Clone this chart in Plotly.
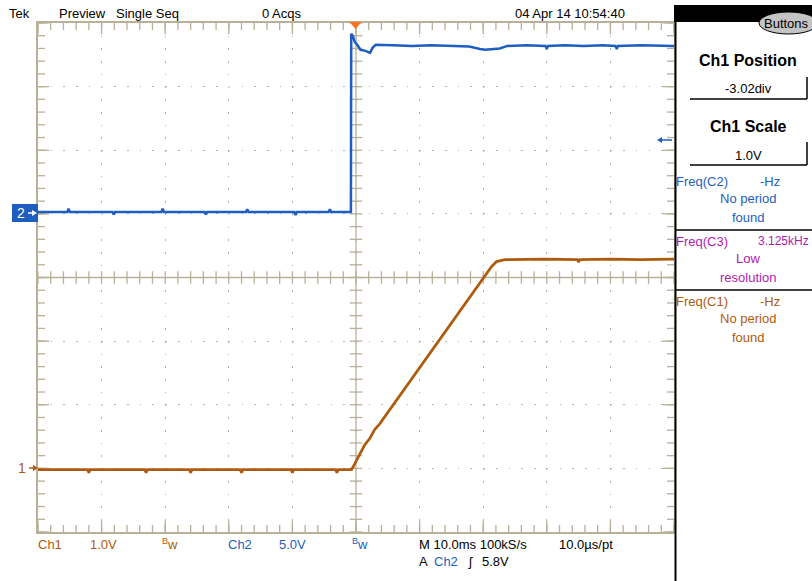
import plotly.graph_objects as go

# Ch2 (blue, 5 V/div) : time in ms relative to trigger, volts
ch2_t = [-49.8, -45.2, -45.0, -44.8, -38.1, -37.9, -37.7, -30.4, -30.2, -30.0,
         -23.6, -23.4, -23.2, -17.1, -16.9, -16.7, -9.5, -9.3, -9.1, -4.1, -3.9, -3.7,
         -0.6, -0.55, -0.3, 0.0, 0.5, 0.9, 1.7, 2.4, 2.8, 3.3, 6.0, 9.0, 12.0, 15.0,
         18.0, 19.7, 20.5, 22.8, 24.0, 27.0, 30.0, 30.2, 30.4, 33.0, 36.0, 39.0, 41.0,
         41.2, 41.4, 45.0, 48.0, 50.2]
ch2_v = [0.0, 0.0, 0.25, 0.0, 0.0, -0.2, 0.0, 0.0, 0.25, 0.0,
         0.0, -0.2, 0.0, 0.0, 0.2, 0.0, 0.0, -0.25, 0.0, 0.0, 0.2, 0.0,
         0.0, 14.0, 13.84, 13.37, 13.06, 12.74, 12.66, 12.51, 12.9, 13.14, 13.1, 13.05, 13.1, 13.05,
         13.0, 12.8, 12.75, 12.85, 13.05, 13.1, 13.05, 12.8, 13.05, 13.1, 13.05, 13.1, 13.05,
         12.8, 13.05, 13.1, 13.05, 13.05]

# Ch1 (brown, 1 V/div)
ch1_t = [-49.8, -42.0, -41.8, -41.6, -33.0, -32.8, -32.6, -26.0, -25.8, -25.6,
         -18.0, -17.8, -17.6, -10.0, -9.8, -9.6, -3.0, -2.8, -2.6, -0.5,
         0.0, 0.79, 1.57, 2.36, 3.14, 3.93, 10.2, 14.9, 18.1, 21.5, 22.3, 23.6,
         30.0, 35.0, 35.2, 35.4, 40.0, 45.0, 50.2]
ch1_v = [0.0, 0.0, -0.05, 0.0, 0.0, -0.05, 0.0, 0.0, -0.05, 0.0,
         0.0, -0.05, 0.0, 0.0, -0.05, 0.0, 0.0, -0.05, 0.0, 0.0,
         0.09, 0.25, 0.39, 0.49, 0.63, 0.72, 1.60, 2.26, 2.70, 3.19, 3.27, 3.30,
         3.31, 3.30, 3.26, 3.30, 3.31, 3.30, 3.31]

# scope settings
time_range = [-49.8, 50.2]        # 10 ms/div, trigger position
ch1_range = [-0.98, 7.02]         # 1.0 V/div, position -3.02 div
ch2_range = [-25.15, 14.85]       # 5.0 V/div
trig_level = 5.8

# ---------------- styling ----------------
W, H = 812, 581
L, R, T, B = 38, 674, 23, 532
TAN = "#b8b098"
BLUE = "#1e5ec0"
BROWN = "#b05a0c"
MAG = "#b01cb0"
FONT = "Liberation Sans, Arial, sans-serif"
FS = 13


def px(X):
    return (X - L) / (R - L)


def py(Y):
    return (B - Y) / (B - T)


fig = go.Figure()

# graticule tick marks (centre cross and border, clipped to the plot area)
minor_x = [i * 0.2 for i in range(51)]
minor_y = [i * 0.2 for i in range(41)]
major_x = list(range(11))
major_y = list(range(9))


def tickmarks(xs, ys, sym, size):
    fig.add_trace(go.Scatter(x=xs, y=ys, mode="markers", xaxis="x", yaxis="y", cliponaxis=True,
                             marker=dict(symbol=sym, size=size, line=dict(color=TAN, width=1.3)),
                             hoverinfo="skip", showlegend=False))


tickmarks(minor_x, [4] * len(minor_x), "line-ns", 9)
tickmarks([5] * len(minor_y), minor_y, "line-ew", 9)
tickmarks(minor_x * 2, [0] * len(minor_x) + [8] * len(minor_x), "line-ns", 10)
tickmarks([0] * len(minor_y) + [10] * len(minor_y), minor_y * 2, "line-ew", 10)
tickmarks(major_x * 2, [0] * len(major_x) + [8] * len(major_x), "line-ns", 16)
tickmarks([0] * len(major_y) + [10] * len(major_y), major_y * 2, "line-ew", 16)

# traces
fig.add_trace(go.Scatter(x=ch1_t, y=ch1_v, mode="lines", xaxis="x2", yaxis="y3",
                         line=dict(color=BROWN, width=2.7), showlegend=False))
fig.add_trace(go.Scatter(x=ch2_t, y=ch2_v, mode="lines", xaxis="x2", yaxis="y4",
                         line=dict(color=BLUE, width=2.5), showlegend=False))

dot = "1.6px,11.12px"
axcommon = dict(showticklabels=False, zeroline=False, showline=True, linecolor=TAN, linewidth=2,
                mirror=True, ticks="",
                showgrid=True, gridcolor="#b0b0b0", gridwidth=1.3, griddash=dot, fixedrange=True)

fig.update_layout(
    width=W, height=H, autosize=False,
    margin=dict(l=L, r=W - R, t=T, b=H - B, pad=0),
    paper_bgcolor="white", plot_bgcolor="white",
    font=dict(family=FONT, size=FS, color="black"),
    xaxis=dict(range=[0, 10], dtick=1, tick0=0, **axcommon),
    yaxis=dict(range=[0, 8], dtick=1, tick0=0, **axcommon),
    xaxis2=dict(range=time_range, overlaying="x", visible=False, fixedrange=True),
    yaxis3=dict(range=ch1_range, overlaying="y", visible=False, fixedrange=True),
    yaxis4=dict(range=ch2_range, overlaying="y", visible=False, fixedrange=True),
)

shapes = []
# centre cross
shapes.append(dict(type="line", xref="x", yref="y", x0=5, x1=5, y0=0, y1=8, line=dict(color=TAN, width=1.3), layer="below"))
shapes.append(dict(type="line", xref="x", yref="y", x0=0, x1=10, y0=4, y1=4, line=dict(color=TAN, width=1.3), layer="below"))
# right panel
shapes.append(dict(type="rect", xref="paper", yref="paper", x0=px(674), x1=px(812), y0=py(22), y1=py(5),
                   fillcolor="black", line=dict(width=0)))
shapes.append(dict(type="line", xref="paper", yref="paper", x0=px(675.5), x1=px(675.5), y0=py(22), y1=py(581),
                   line=dict(color="black", width=2)))
shapes.append(dict(type="circle", xref="paper", yref="paper", x0=px(759), x1=px(818), y0=py(34), y1=py(12),
                   fillcolor="#c4c4c4", line=dict(color="black", width=1)))
for yb, yt in [(99, 77), (165, 142)]:
    shapes.append(dict(type="line", xref="paper", yref="paper", x0=px(690), x1=px(807), y0=py(yb), y1=py(yb),
                       line=dict(color="black", width=1.5)))
    shapes.append(dict(type="line", xref="paper", yref="paper", x0=px(807), x1=px(807), y0=py(yb), y1=py(yt),
                       line=dict(color="black", width=1.5)))
for ys in [230, 290]:
    shapes.append(dict(type="line", xref="paper", yref="paper", x0=px(676), x1=px(812), y0=py(ys), y1=py(ys),
                       line=dict(color="black", width=1.5)))
# Ch2 marker box
shapes.append(dict(type="rect", xref="paper", yref="paper", x0=px(12), x1=px(38), y0=py(222), y1=py(204),
                   fillcolor=BLUE, line=dict(width=0)))
# trigger position triangle
shapes.append(dict(type="path", xref="paper", yref="paper",
                   path=f"M {px(349.5)},{py(22)} L {px(361.5)},{py(22)} L {px(355.5)},{py(29)} Z",
                   fillcolor="#ff7020", line=dict(width=0)))


def arrow(X0, X1, Y, color):
    # horizontal arrow from X0 to X1 (pixels): shaft + head
    d = 1 if X1 > X0 else -1
    shapes.append(dict(type="line", xref="paper", yref="paper", x0=px(X0), x1=px(X1 - d * 3), y0=py(Y), y1=py(Y),
                       line=dict(color=color, width=1.5)))
    shapes.append(dict(type="path", xref="paper", yref="paper",
                       path=f"M {px(X1)},{py(Y)} L {px(X1 - d * 5)},{py(Y - 3)} L {px(X1 - d * 5)},{py(Y + 3)} Z",
                       fillcolor=color, line=dict(width=0)))


arrow(28, 37, 213, "white")
arrow(29, 38, 468, BROWN)
arrow(672, 657, 140, BLUE)
fig.update_layout(shapes=shapes)

anns = []


def ann(X, Y, text, color="black", size=FS, anchor="left", bold=False):
    if bold:
        text = f"<b>{text}</b>"
    anns.append(dict(x=px(X), y=py(Y), xref="paper", yref="paper", text=text, showarrow=False,
                     xanchor=anchor, yanchor="middle", font=dict(family=FONT, size=size, color=color),
                     borderpad=0, borderwidth=0))


# top line
ann(9, 13, "Tek")
ann(59, 13, "Preview")
ann(116, 13, "Single Seq")
ann(262, 13, "0 Acqs")
ann(515, 13, "04 Apr 14 10:54:40")
ann(787, 23, "Buttons", anchor="center")

# right panel
ann(748, 61, "Ch1 Position", size=16, anchor="center", bold=True)
ann(748, 88, "-3.02div", anchor="center")
ann(748, 127, "Ch1 Scale", size=16, anchor="center", bold=True)
ann(748, 155, "1.0V", anchor="center")
ann(676, 182, "Freq(C2)", color=BLUE)
ann(760, 182, "-Hz", color=BLUE)
ann(748, 198, "No period", color=BLUE, anchor="center")
ann(748, 217, "found", color=BLUE, anchor="center")
ann(676, 241, "Freq(C3)", color=MAG)
ann(758, 241, "3.125kHz", color=MAG, size=12)
ann(748, 258, "Low", color=MAG, anchor="center")
ann(748, 277, "resolution", color=MAG, anchor="center")
ann(676, 301, "Freq(C1)", color=BROWN)
ann(760, 301, "-Hz", color=BROWN)
ann(748, 318, "No period", color=BROWN, anchor="center")
ann(748, 337, "found", color=BROWN, anchor="center")

# bottom readouts
ann(38, 544, "Ch1", color=BROWN)
ann(90, 544, "1.0V", color=BROWN)
ann(162, 544, "<sup>B</sup>w", color=BROWN)
ann(228, 544, "Ch2", color=BLUE)
ann(279, 544, "5.0V", color=BLUE)
ann(352, 544, "<sup>B</sup>w", color=BLUE)
ann(419, 544, "M 10.0ms 100kS/s")
ann(559, 544, "10.0µs/pt")
ann(419, 561, "A")
ann(434, 561, "Ch2", color=BLUE)
ann(468, 561, "ʃ")
ann(482, 561, "5.8V")

# channel markers
ann(21, 213, "2", color="white", size=14, anchor="center")
ann(22, 468, "1", color=BROWN, size=14, anchor="center")

fig.update_layout(annotations=anns)

fig.write_html("out.html", config={"displayModeBar": False})

with open("out.html", "r", encoding="utf-8") as f:
    html = f.read()
html = html.replace("<head>", "<head><style>html,body{margin:0;padding:0;overflow:hidden;}</style>", 1)
with open("out.html", "w", encoding="utf-8") as f:
    f.write(html)
